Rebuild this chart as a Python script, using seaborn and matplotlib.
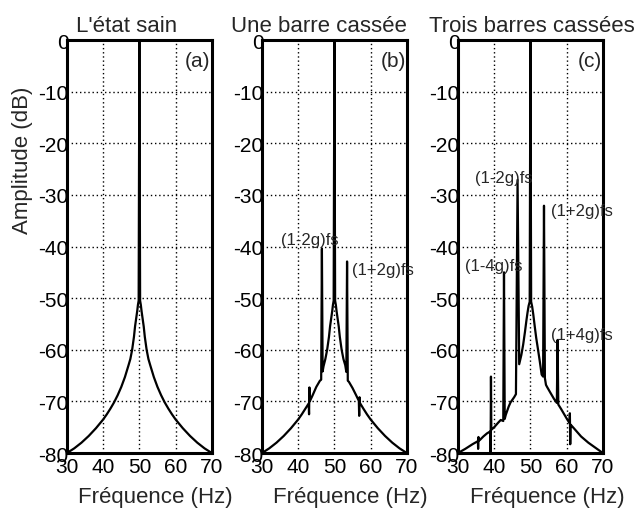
import numpy
import seaborn
import pandas
import matplotlib
matplotlib.use('Agg')
import matplotlib.pyplot as plt

# Spectrum traces (frequency in Hz, amplitude in dB)
freq_a = [30, 32, 34, 36, 38, 40, 41, 42, 43, 44, 45, 46, 47, 47.5, 48, 48.5, 48.8, 49.1, 49.4, 49.6, 49.8,
          50, 50.2, 50.4, 50.6, 50.9, 51.2, 51.5, 52, 52.5, 53, 54, 55, 56, 57, 58, 59, 60, 62, 64, 66, 68, 70]
db_a = [-80, -79.1, -78, -76.7, -75.2, -73.5, -72.5, -71.4, -70.2, -68.8, -67.2, -65.3, -63, -61.8, -60, -57.5,
        -55.5, -54, -52.5, -51.3, -50.5,
        0, -50.5, -51.3, -52.5, -54, -55.5, -57.5, -60, -61.8, -63, -65.3, -67.2, -68.8, -70.2, -71.4, -72.5,
        -73.5, -75.2, -76.7, -78, -79.1, -80]

freq_b = [30, 32, 34, 36, 38, 40, 41, 42, 42.9, 43.0, 43.1, 43.2, 44, 45, 46, 46.35, 46.55, 46.75, 47, 47.5,
          48, 48.5, 48.8, 49.1, 49.4, 49.6, 49.8,
          50, 50.2, 50.4, 50.6, 50.9, 51.2, 51.5, 52, 52.5, 53, 53.3, 53.5, 53.7, 54, 55, 56, 56.75, 56.85,
          56.95, 57.05, 58, 59, 60, 62, 64, 66, 68, 70]
db_b = [-80, -79.1, -78, -76.7, -75.2, -73.5, -72.5, -71.4, -70.4, -72.5, -67.3, -70.0, -68.8, -67.2, -66,
        -65.8, -40.4, -64.2, -63.2, -61.8, -60, -57.5, -55.5, -54, -52.5, -51.3, -50.5,
        0, -50.5, -51.3, -52.5, -54, -55.5, -57.5, -60, -61.8, -63, -64.3, -42.9, -66, -66.2, -67.4, -68.8,
        -69.9, -72.8, -69.2, -70.3, -71.4, -72.5, -73.5, -75.2, -76.7, -78, -79.1, -80]

freq_c = [30, 32, 34, 35.5, 35.55, 35.65, 35.7, 36, 37, 38, 38.95, 39.0, 39.1, 39.2, 40, 41, 41.8, 42.5, 42.7,
          42.9, 43.2, 44, 44.5, 45.5, 46.0, 46.45, 46.9, 47.5, 48, 48.5, 48.9, 49.2, 49.5, 49.8,
          50, 50.2, 50.5, 50.8, 51.2, 51.6, 52, 52.6, 53.1, 53.5, 53.75, 54.0, 54.3, 54.6, 55.5, 56.5, 57.3,
          57.5, 57.7, 58.5, 60, 60.8, 60.9, 61.0, 61.1, 62, 64, 66, 68, 70]
db_c = [-80, -79.2, -78.3, -77.7, -79.2, -76.9, -77.6, -77.5, -76.8, -76.2, -75.8, -80, -65.2, -75.5, -75,
        -74.2, -73.6, -73.8, -45, -73.4, -72.6, -71, -70.2, -69.2, -68.6, -27.1, -62.8, -61, -59, -56.5,
        -54.3, -52.8, -51.5, -50.7,
        0, -50.7, -51.7, -53.2, -55.5, -57.7, -59.5, -62.3, -64.8, -65.2, -32.1, -65.5, -66.8, -67.2, -68.3,
        -69.5, -70.3, -58.1, -70.6, -71.5, -73.3, -74.2, -72.3, -78.3, -74.5, -75.2, -76.8, -78, -79, -80]

titles = ["L'état sain", "Une barre cassée", "Trois barres cassées"]
panel_tags = ['(a)', '(b)', '(c)']
x_ticks = [30, 40, 50, 60, 70]
y_ticks = [0, -10, -20, -30, -40, -50, -60, -70, -80]

# sideband labels: (panel, text, x in Hz, y in dB)
sideband_labels = [
    (1, '(1-2g)fs', 35.2, -38.6),
    (1, '(1+2g)fs', 55.0, -44.4),
    (2, '(1-2g)fs', 34.7, -26.7),
    (2, '(1+2g)fs', 55.8, -33.1),
    (2, '(1-4g)fs', 31.9, -43.7),
    (2, '(1+4g)fs', 55.8, -57.0),
]


def build_frame():
    frames = []
    for i, (f, d) in enumerate([(freq_a, db_a), (freq_b, db_b), (freq_c, db_c)]):
        frames.append(pandas.DataFrame({'panel': i, 'order': numpy.arange(len(f)), 'freq': f, 'db': d}))
    return pandas.concat(frames, ignore_index=True)


def main():
    seaborn.set_style('white')
    plt.rcParams['font.family'] = ['Liberation Sans', 'DejaVu Sans']
    plt.rcParams['axes.unicode_minus'] = False

    data = build_frame()
    fig = plt.figure(figsize=(6.35, 5.1), dpi=100)
    lefts = [0.1055, 0.4126, 0.7213]
    title_x = [0.414, 0.393, 0.51]
    xlabel_x = [0.607, 0.607, 0.62]

    for i in range(3):
        ax = fig.add_axes([lefts[i], 0.1098, 0.228, 0.8098])
        sub = data[data['panel'] == i]
        seaborn.lineplot(data=sub, x='freq', y='db', sort=False, estimator=None,
                         color='black', linewidth=1.6, ax=ax)
        ax.set_xlim(30, 70)
        ax.set_ylim(-80, 0)
        ax.set_xticks(x_ticks)
        ax.set_yticks(y_ticks)
        ax.set_xticklabels([str(t) for t in x_ticks])
        ax.set_yticklabels([str(t) for t in y_ticks])
        ax.tick_params(axis='both', length=0, labelsize=15, colors='black')
        ax.tick_params(axis='y', pad=-1)
        ax.tick_params(axis='x', pad=3)
        ax.grid(True, color='black', linestyle=(0, (1, 2)), linewidth=1)
        for sp in ax.spines.values():
            sp.set_linewidth(2.2)
            sp.set_color('black')

        ax.text(title_x[i], 1.0218, titles[i], transform=ax.transAxes,
                ha='center', va='baseline', fontsize=16)
        ax.text(69.7, -4, panel_tags[i], ha='right', va='center', fontsize=15)

        ax.set_xlabel('Fréquence (Hz)', fontsize=16)
        ax.xaxis.set_label_coords(xlabel_x[i], -0.1065)
        ax.xaxis.label.set_va('center')
        if i == 0:
            ax.set_ylabel('Amplitude (dB)', fontsize=16)
            ax.yaxis.set_label_coords(-0.31, 0.712)
            ax.yaxis.label.set_va('center')
        else:
            ax.set_ylabel('')

        for p, txt, xh, yd in sideband_labels:
            if p == i:
                ax.text(xh, yd, txt, ha='left', va='center', fontsize=12, clip_on=False)

    fig.savefig('out.png', dpi=100, facecolor='white')


if __name__ == '__main__':
    main()
